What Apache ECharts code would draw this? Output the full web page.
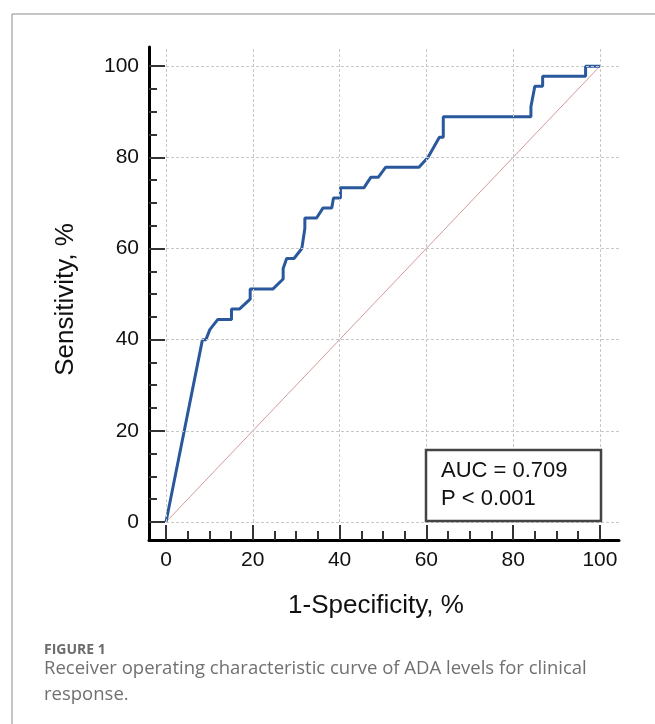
<!DOCTYPE html>
<html>
<head>
<meta charset="utf-8">
<script src="https://cdn.jsdelivr.net/npm/echarts@6/dist/echarts.min.js"></script>
<style>
html, body { margin: 0; padding: 0; background: #fff; }
#main { width: 655px; height: 724px; }
</style>
</head>
<body>
<div id="main"></div>
<script>
// ROC curve points [1-specificity %, sensitivity %]
var rocPoints = [
    [0, 0], [8.4, 40], [9.2, 40], [10.1, 42.2], [11.9, 44.4], [15.1, 44.4], [15.1, 46.7],
    [16.9, 46.7], [19.4, 48.9], [19.4, 51.1], [24.6, 51.1], [27.0, 53.3], [27.0, 55.6],
    [27.8, 57.8], [29.5, 57.8], [31.3, 60.0], [32.0, 64.4], [32.0, 66.7], [34.7, 66.7],
    [36.2, 68.9], [38.2, 68.9], [38.6, 71.1], [40.2, 71.1], [40.2, 73.3], [45.6, 73.3],
    [47.2, 75.6], [48.9, 75.6], [50.6, 77.8], [58.3, 77.8], [60.4, 80.0], [63.0, 84.4],
    [63.9, 84.4], [63.9, 88.9], [84.1, 88.9], [84.1, 91.1], [85.0, 95.6], [86.8, 95.6],
    [86.8, 97.8], [96.7, 97.8], [96.7, 100], [100, 100]
];
var refLine = [[0, 0], [100, 100]];
var majorTicks = [0, 20, 40, 60, 80, 100];
var minorTicks = [5, 10, 15, 25, 30, 35, 45, 50, 55, 65, 70, 75, 85, 90, 95];
var xName = '1-Specificity, %';
var yName = 'Sensitivity, %';
var statLines = ['AUC = 0.709', 'P < 0.001'];
var figLabel = 'FIGURE 1';
var caption = 'Receiver operating characteristic curve of ADA levels for clinical\nresponse.';

// axes run a bit past 0..100 like the original plot
var xMin = -3.92, xMax = 104.4;
var yMin = -3.95, yMax = 104.2;

var font = 'Liberation Sans, Arial, sans-serif';

var gridLines = [];
majorTicks.forEach(function(v) {
    gridLines.push([{ coord: [v, 0] }, { coord: [v, yMax] }]);
    gridLines.push([{ coord: [0, v] }, { coord: [xMax, v] }]);
});

var myChart = echarts.init(document.getElementById('main'));

var option = {
    backgroundColor: '#fff',
    animation: false,
    title: [{
        text: figLabel,
        left: 44,
        top: 643,
        padding: 0,
        textStyle: { fontFamily: 'Open Sans, sans-serif', fontSize: 14, fontWeight: 'bold', color: '#6b6b6b' }
    }, {
        text: caption,
        left: 44,
        top: 656,
        padding: 0,
        textStyle: { fontFamily: 'Open Sans, sans-serif', fontSize: 18.5, fontWeight: 'normal', color: '#707070', lineHeight: 26 }
    }],
    grid: { left: 149, top: 47, right: 36, bottom: 184 },
    xAxis: [{
        type: 'value',
        position: 'bottom',
        min: xMin,
        max: xMax,
        name: xName,
        nameLocation: 'middle',
        nameGap: 53,
        nameTextStyle: { fontFamily: font, fontSize: 26, color: '#111', padding: [0, 16, 0, 0] },
        axisLine: { show: true, onZero: false, lineStyle: { color: '#000', width: 3 } },
        axisTick: { show: true, inside: true, length: 15, customValues: majorTicks, lineStyle: { color: '#333', width: 2 } },
        axisLabel: { customValues: majorTicks, margin: 10, fontFamily: font, fontSize: 21, color: '#111' },
        splitLine: { show: false }
    }, {
        type: 'value',
        position: 'bottom',
        min: xMin,
        max: xMax,
        axisLine: { show: false, onZero: false },
        axisTick: { show: true, inside: true, length: 9, customValues: minorTicks, lineStyle: { color: '#333', width: 2 } },
        axisLabel: { show: false },
        splitLine: { show: false }
    }],
    yAxis: [{
        type: 'value',
        position: 'left',
        min: yMin,
        max: yMax,
        name: yName,
        nameLocation: 'middle',
        nameGap: 70,
        nameTextStyle: { fontFamily: font, fontSize: 26, color: '#111', padding: [0, 12, 0, 0] },
        axisLine: { show: true, onZero: false, lineStyle: { color: '#000', width: 3 } },
        axisTick: { show: true, inside: true, length: 16, customValues: majorTicks, lineStyle: { color: '#333', width: 2 } },
        axisLabel: { customValues: majorTicks, margin: 10, fontFamily: font, fontSize: 21, color: '#111' },
        splitLine: { show: false }
    }, {
        type: 'value',
        position: 'left',
        min: yMin,
        max: yMax,
        axisLine: { show: false, onZero: false },
        axisTick: { show: true, inside: true, length: 8, customValues: minorTicks, lineStyle: { color: '#333', width: 2 } },
        axisLabel: { show: false },
        splitLine: { show: false }
    }],
    series: [{
        name: 'reference',
        type: 'line',
        data: refLine,
        symbol: 'none',
        lineStyle: { color: '#d39a9a', width: 1 },
        markLine: {
            silent: true,
            symbol: ['none', 'none'],
            label: { show: false },
            lineStyle: { color: '#c8c8c8', width: 1, type: [3, 2] },
            data: gridLines
        },
        z: 1
    }, {
        name: 'ROC',
        type: 'line',
        data: rocPoints,
        symbol: 'none',
        lineStyle: { color: '#2a589d', width: 3 },
        z: 3
    }],
    graphic: [{
        type: 'line',
        shape: { x1: 12, y1: 14, x2: 655, y2: 14 },
        style: { stroke: '#8c8c8c', lineWidth: 1 }
    }, {
        type: 'line',
        shape: { x1: 12, y1: 14, x2: 12, y2: 724 },
        style: { stroke: '#8c8c8c', lineWidth: 1 }
    }, {
        type: 'rect',
        shape: { x: 426, y: 450, width: 175, height: 71 },
        style: { fill: '#fff', stroke: '#444', lineWidth: 2.5 },
        z: 10
    }, {
        type: 'text',
        x: 441,
        y: 471,
        style: { text: statLines[0], fontFamily: font, fontSize: 22, fill: '#111', verticalAlign: 'middle' },
        z: 11
    }, {
        type: 'text',
        x: 441,
        y: 499,
        style: { text: statLines[1], fontFamily: font, fontSize: 22, fill: '#111', verticalAlign: 'middle' },
        z: 11
    }]
};

myChart.setOption(option);
</script>
</body>
</html>
